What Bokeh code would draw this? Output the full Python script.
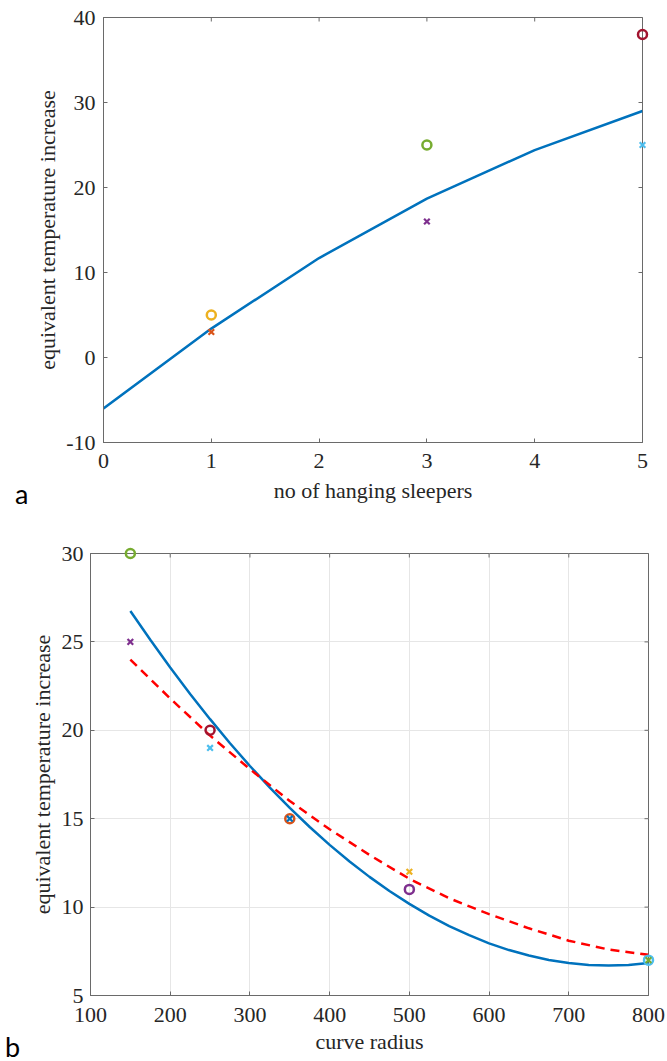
import math
from bokeh.plotting import figure
from bokeh.layouts import column, row
from bokeh.models import FixedTicker, Range1d, Div
from bokeh.embed import file_html
from bokeh.resources import INLINE

# ---------------- panel a data ----------------
a_sleepers = [0, 1, 2, 3, 4, 5]
a_fit = [-6.0, 3.4, 11.7, 18.7, 24.4, 29.0]
a_circle_x = [1, 3, 5]
a_circle_y = [5, 25, 38]
a_cross_x = [1, 3, 5]
a_cross_y = [3, 16, 25]
a_xticks = [0, 1, 2, 3, 4, 5]
a_yticks = [-10, 0, 10, 20, 30, 40]

# ---------------- panel b data ----------------
b_radius = [150, 175, 200, 225, 250, 275, 300, 325, 350, 375, 400, 425, 450, 475,
            500, 525, 550, 575, 600, 625, 650, 675, 700, 725, 750, 775, 800]
b_fit_solid = [26.75, 25.12, 23.55, 22.05, 20.63, 19.27, 17.98, 16.76, 15.61, 14.53, 13.52,
               12.58, 11.71, 10.91, 10.18, 9.52, 8.93, 8.41, 7.95, 7.57, 7.26, 7.01, 6.84,
               6.73, 6.70, 6.73, 6.84]
b_radius_dash = [150, 200, 250, 300, 350, 400, 450, 500, 550, 600, 650, 700, 750, 800]
b_fit_dash = [24.0, 21.8, 19.7, 17.8, 16.0, 14.4, 12.95, 11.6, 10.5, 9.6, 8.8, 8.1, 7.6, 7.3]
b_circle_x = [150, 250, 350, 500, 800]
b_circle_y = [30, 20, 15, 11, 7]
b_cross_x = [150, 250, 350, 500, 800]
b_cross_y = [25, 19, 15, 12, 7]
b_xticks = [100, 200, 300, 400, 500, 600, 700, 800]
b_yticks = [5, 10, 15, 20, 25, 30]
panel_tags = ["a", "b"]

# ---------------- styles ----------------
BLUE = "#0072BD"
a_circle_colors = ["#EDB120", "#77AC30", "#A2142F"]
a_cross_colors = ["#D95319", "#7E2F8E", "#4DBEEE"]
b_circle_colors = ["#77AC30", "#A2142F", "#D95319", "#7E2F8E", "#4DBEEE"]
b_cross_colors = ["#7E2F8E", "#4DBEEE", "#0072BD", "#EDB120", "#77AC30"]
AX = "#6a6a6a"
TXT = "#262626"
SERIF = "Liberation Serif"


def style_axis(ax, ticks, standoff=8, label_standoff=5):
    ax.ticker = FixedTicker(ticks=ticks)
    ax.axis_line_color = AX
    ax.axis_line_width = 1
    ax.major_tick_line_color = AX
    ax.major_tick_in = 4
    ax.major_tick_out = 0
    ax.minor_tick_line_color = None
    ax.major_label_text_font = SERIF
    ax.major_label_text_font_size = "22px"
    ax.major_label_text_color = TXT
    ax.major_label_standoff = standoff
    ax.major_label_overrides = {t: str(t) for t in ticks}
    ax.axis_label_text_font = SERIF
    ax.axis_label_text_font_size = "22px"
    ax.axis_label_text_font_style = "normal"
    ax.axis_label_text_color = TXT
    ax.axis_label_standoff = label_standoff


def box_ticks(p, xticks, yticks):
    # inward tick marks on the top and right edges of the box (half clipped by the frame)
    p.scatter(xticks, [yticks[-1]] * len(xticks), marker="dash", size=8, angle=math.pi / 2,
              line_color=AX, line_width=1)
    p.scatter([xticks[-1]] * len(yticks), yticks, marker="dash", size=8,
              line_color=AX, line_width=1)


def make_fig(width, height, xr, yr, borders):
    left, right, top, bottom = borders
    p = figure(width=width, height=height, x_range=Range1d(*xr), y_range=Range1d(*yr),
               output_backend="svg", toolbar_location=None,
               min_border_left=left, min_border_right=right,
               min_border_top=top, min_border_bottom=bottom)
    p.outline_line_color = AX
    p.outline_line_width = 1
    p.background_fill_color = "white"
    p.border_fill_color = "white"
    return p


def tag_div(text, width, height, pad_top, pad_left):
    html = ('<div style="padding-top:%dpx;padding-left:%dpx;font-family:Lato;'
            'font-size:27px;line-height:24px;color:#000;margin:0;">%s</div>'
            % (pad_top, pad_left, text))
    return Div(text=html, width=width, height=height, margin=0)


# ---------------- panel a ----------------
pa = make_fig(635, 530, (0, 5), (-10, 40), (68, 25, 17, 88))
pa.xgrid.grid_line_color = None
pa.ygrid.grid_line_color = None
style_axis(pa.xaxis[0], a_xticks, standoff=11, label_standoff=7)
style_axis(pa.yaxis[0], a_yticks, standoff=8, label_standoff=3)
pa.xaxis[0].axis_label = "no of hanging sleepers"
pa.yaxis[0].axis_label = "equivalent temperature increase"
box_ticks(pa, a_xticks, a_yticks)

pa.line(a_sleepers, a_fit, line_color=BLUE, line_width=2.5)
pa.scatter(a_cross_x, a_cross_y, marker="x", size=8, line_color=a_cross_colors,
           line_width=2.2, level="overlay")
pa.scatter(a_circle_x, a_circle_y, marker="circle", size=9, fill_color=None,
           line_color=a_circle_colors, line_width=2.5, level="overlay")

# ---------------- panel b ----------------
pb = make_fig(641, 531, (100, 800), (5, 30), (58, 19, 23, 66))
for g in (pb.xgrid[0], pb.ygrid[0]):
    g.grid_line_color = "#e6e6e6"
    g.grid_line_width = 1
pb.xgrid[0].ticker = FixedTicker(ticks=b_xticks)
pb.ygrid[0].ticker = FixedTicker(ticks=b_yticks)
style_axis(pb.xaxis[0], b_xticks, standoff=12, label_standoff=4)
style_axis(pb.yaxis[0], b_yticks, standoff=7, label_standoff=4)
pb.xaxis[0].axis_label = "curve radius"
pb.yaxis[0].axis_label = "equivalent temperature increase"
box_ticks(pb, b_xticks, b_yticks)

pb.line(b_radius, b_fit_solid, line_color=BLUE, line_width=2.5)
pb.line(b_radius_dash, b_fit_dash, line_color="#FF0000", line_width=2.5, line_dash="9 6")
pb.scatter(b_circle_x, b_circle_y, marker="circle", size=9, fill_color=None,
           line_color=b_circle_colors, line_width=2.5, level="overlay")
pb.scatter(b_cross_x, b_cross_y, marker="x", size=8, line_color=b_cross_colors,
           line_width=2.2, level="overlay")

div_a = tag_div(panel_tags[0], 32, 530, 482, 15)
div_b = tag_div(panel_tags[1], 26, 531, 505, 5)

layout = column(row(div_a, pa, spacing=0), row(div_b, pb, spacing=0), spacing=0)
open("out.html", "w").write(file_html(layout, INLINE))
